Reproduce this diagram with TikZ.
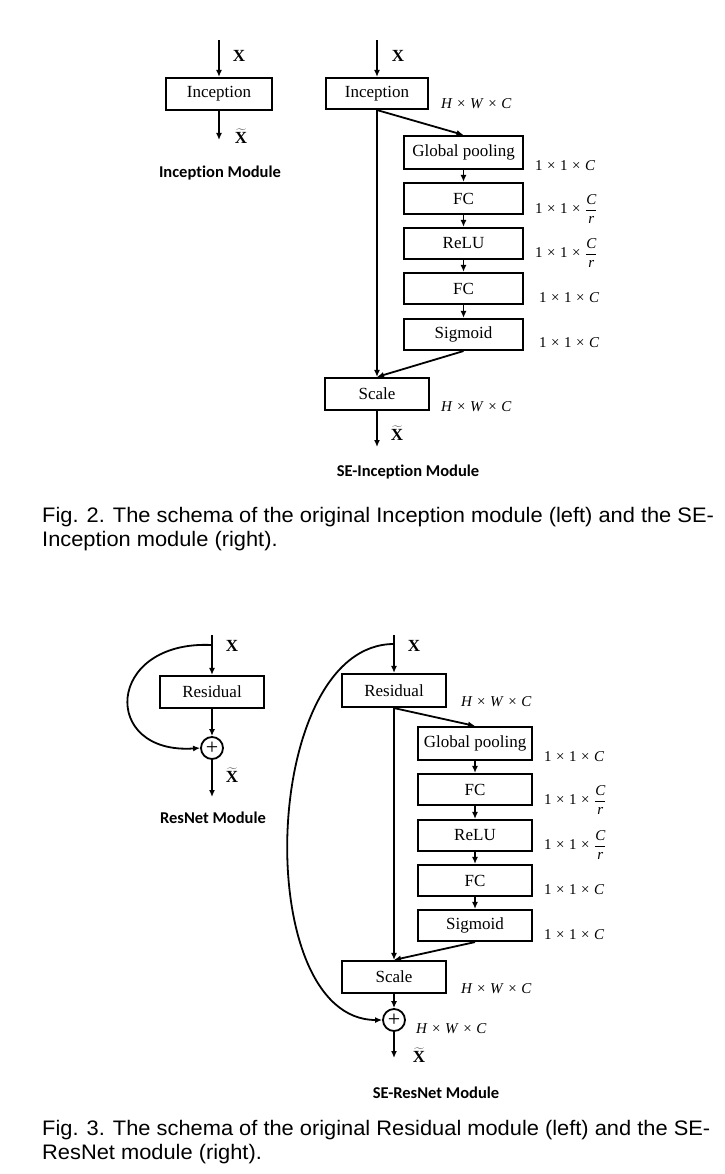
\documentclass[tikz,border=0pt]{standalone}
\usepackage{fontspec}
\setmainfont{Liberation Serif}
\newfontfamily\titlefont[Ligatures=NoCommon]{Carlito}
\newfontfamily\capfont{Liberation Sans}
\usetikzlibrary{arrows.meta}

% dimension labels
\newcommand{\tms}{\hspace{0.3em}×\hspace{0.3em}}
\newcommand{\HWC}{\textit{H}\tms\textit{W}\tms\textit{C}}
\newcommand{\oneC}{1\tms1\tms\textit{C}}
\newcommand{\oneCr}{1\tms1\tms$\displaystyle{\textit{C}\above1.3pt\textit{r}}$}
\newcommand{\Xt}{$\widetilde{\textbf{X}}$}

\begin{document}
\begin{tikzpicture}[x=1pt,y=-1pt,
  blk/.style={draw, line width=2.1pt, inner sep=0pt, font=\fontsize{17}{20}\selectfont},
  arr/.style={line width=1.8pt, -{Latex[length=7pt,width=6pt]}},
  dimlbl/.style={font=\fontsize{15}{18}\selectfont, anchor=west, inner sep=0pt},
  xlbl/.style={font=\fontsize{17}{20}\selectfont\bfseries, inner sep=0pt},
  ttl/.style={font=\titlefont\bfseries\fontsize{16.5}{20}\selectfont, inner sep=0pt},
  capline/.style={font=\capfont\fontsize{21}{25}\selectfont, anchor=base west, inner sep=0pt},
  sum/.style={draw, circle, line width=1.8pt, minimum size=22pt, inner sep=0pt,
    font=\fontsize{22}{22}\selectfont}
]
\path[fill=white, use as bounding box] (0,0) rectangle (724,1174);

% ---------- Inception module ----------
\coordinate (inA) at (219,40);
\node[blk, minimum width=106pt, minimum height=32pt] (inc1) at (219,94) {Inception};
\coordinate (outA) at (219,140);
\draw[arr] (inA) -- (inc1);
\draw[arr] (inc1) -- (outA);
\node[xlbl] (xA) at (239,56) {X};
\node[xlbl] (xtA) at (241,136) {\Xt};
\node[ttl] (tA) at (220,173) {Inception Module};

% ---------- SE-Inception module ----------
\coordinate (inB) at (377,40);
\node[blk, minimum width=102pt, minimum height=31pt] (inc2) at (377,93.5) {Inception};
\node[xlbl] (xB) at (398,56) {X};
\node[dimlbl] (dB0) at (441,104) {\HWC};
\node[blk, minimum width=119pt, minimum height=33pt] (gp1) at (463.5,152.5) {Global pooling};
\node[blk, minimum width=119pt, minimum height=31pt] (fc1) at (463.5,198.5) {FC};
\node[blk, minimum width=119pt, minimum height=31pt] (relu1) at (463.5,243.5) {ReLU};
\node[blk, minimum width=119pt, minimum height=31pt] (fc1b) at (463.5,288.5) {FC};
\node[blk, minimum width=119pt, minimum height=31pt] (sig1) at (463.5,334.5) {Sigmoid};
\node[dimlbl] (dB1) at (535,166) {\oneC};
\node[dimlbl] (dB2) at (535,209) {\oneCr};
\node[dimlbl] (dB3) at (535,253) {\oneCr};
\node[dimlbl] (dB4) at (539,298) {\oneC};
\node[dimlbl] (dB5) at (539,343) {\oneC};
\node[blk, minimum width=104pt, minimum height=32pt] (scale1) at (377,394) {Scale};
\node[dimlbl] (dB6) at (441,407) {\HWC};
\coordinate (outB) at (377,447);
\node[xlbl] (xtB) at (397,433) {\Xt};
\node[ttl] (tB) at (408,472) {SE-Inception Module};

\draw[arr] (inB) -- (inc2);
\draw[arr] (inc2.south) -- (gp1.north);
\draw[arr] (gp1) -- (fc1);
\draw[arr] (fc1) -- (relu1);
\draw[arr] (relu1) -- (fc1b);
\draw[arr] (fc1b) -- (sig1);
\draw[arr] (inc2.south) -- (scale1.north);
\draw[arr] (sig1.south) -- (scale1.north);
\draw[arr] (scale1) -- (outB);

% ---------- captions ----------
\node[capline] (c2a) at (42,522) {\scalebox{1.04}[1]{Fig. 2. The schema of the original Inception module (left) and the SE-}};
\node[capline] (c2b) at (42,546.5) {\scalebox{1.04}[1]{Inception module (right).}};

% ---------- ResNet module ----------
\coordinate (inC) at (212,635);
\coordinate (tapC) at (212,645);
\node[blk, minimum width=104pt, minimum height=32pt] (res1) at (212,692) {Residual};
\node[sum] (sum1) at (212,748) {+};
\coordinate (outC) at (212,797);
\node[xlbl] (xC) at (232,646) {X};
\node[xlbl] (xtC) at (232,775) {\Xt};
\node[ttl] (tC) at (213,818) {ResNet Module};
\draw[arr] (inC) -- (res1);
\draw[arr] (res1) -- (sum1);
\draw[arr] (sum1) -- (outC);
\draw[arr] (tapC) .. controls (105,640) and (100,755) .. (sum1.west);

% ---------- SE-ResNet module ----------
\coordinate (inD) at (394,635);
\coordinate (tapD) at (394,644);
\node[blk, minimum width=104pt, minimum height=33pt] (res2) at (394,690.5) {Residual};
\node[xlbl] (xD) at (414,646) {X};
\node[dimlbl] (dD0) at (461,702) {\HWC};
\node[blk, minimum width=114pt, minimum height=33pt] (gp2) at (475,743.5) {Global pooling};
\node[blk, minimum width=114pt, minimum height=31pt] (fc2) at (475,789.5) {FC};
\node[blk, minimum width=114pt, minimum height=31pt] (relu2) at (475,835.5) {ReLU};
\node[blk, minimum width=114pt, minimum height=31pt] (fc2b) at (475,880.5) {FC};
\node[blk, minimum width=114pt, minimum height=31pt] (sig2) at (475,925.5) {Sigmoid};
\node[dimlbl] (dD1) at (544,757) {\oneC};
\node[dimlbl] (dD2) at (544,800) {\oneCr};
\node[dimlbl] (dD3) at (544,845) {\oneCr};
\node[dimlbl] (dD4) at (544,890) {\oneC};
\node[dimlbl] (dD5) at (544,935) {\oneC};
\node[blk, minimum width=104pt, minimum height=32pt] (scale2) at (394,977) {Scale};
\node[dimlbl] (dD6) at (461,989) {\HWC};
\node[sum] (sum2) at (394,1020) {+};
\node[dimlbl] (dD7) at (416,1029) {\HWC};
\coordinate (outD) at (394,1058);
\node[xlbl] (xtD) at (419,1055) {\Xt};
\node[ttl] (tD) at (436,1093) {SE-ResNet Module};

\draw[arr] (inD) -- (res2);
\draw[arr] (res2.south) -- (gp2.north);
\draw[arr] (gp2) -- (fc2);
\draw[arr] (fc2) -- (relu2);
\draw[arr] (relu2) -- (fc2b);
\draw[arr] (fc2b) -- (sig2);
\draw[arr] (res2.south) -- (scale2.north);
\draw[arr] (sig2.south) -- (scale2.north);
\draw[arr] (scale2) -- (sum2);
\draw[arr] (sum2) -- (outD);
\draw[arr] (tapD) .. controls (260,644) and (250,1020) .. (sum2.west);

% ---------- captions ----------
\node[capline] (c3a) at (42,1135) {\scalebox{1.04}[1]{Fig. 3. The schema of the original Residual module (left) and the SE-}};
\node[capline] (c3b) at (42,1159.5) {\scalebox{1.04}[1]{ResNet module (right).}};
\end{tikzpicture}
\end{document}
